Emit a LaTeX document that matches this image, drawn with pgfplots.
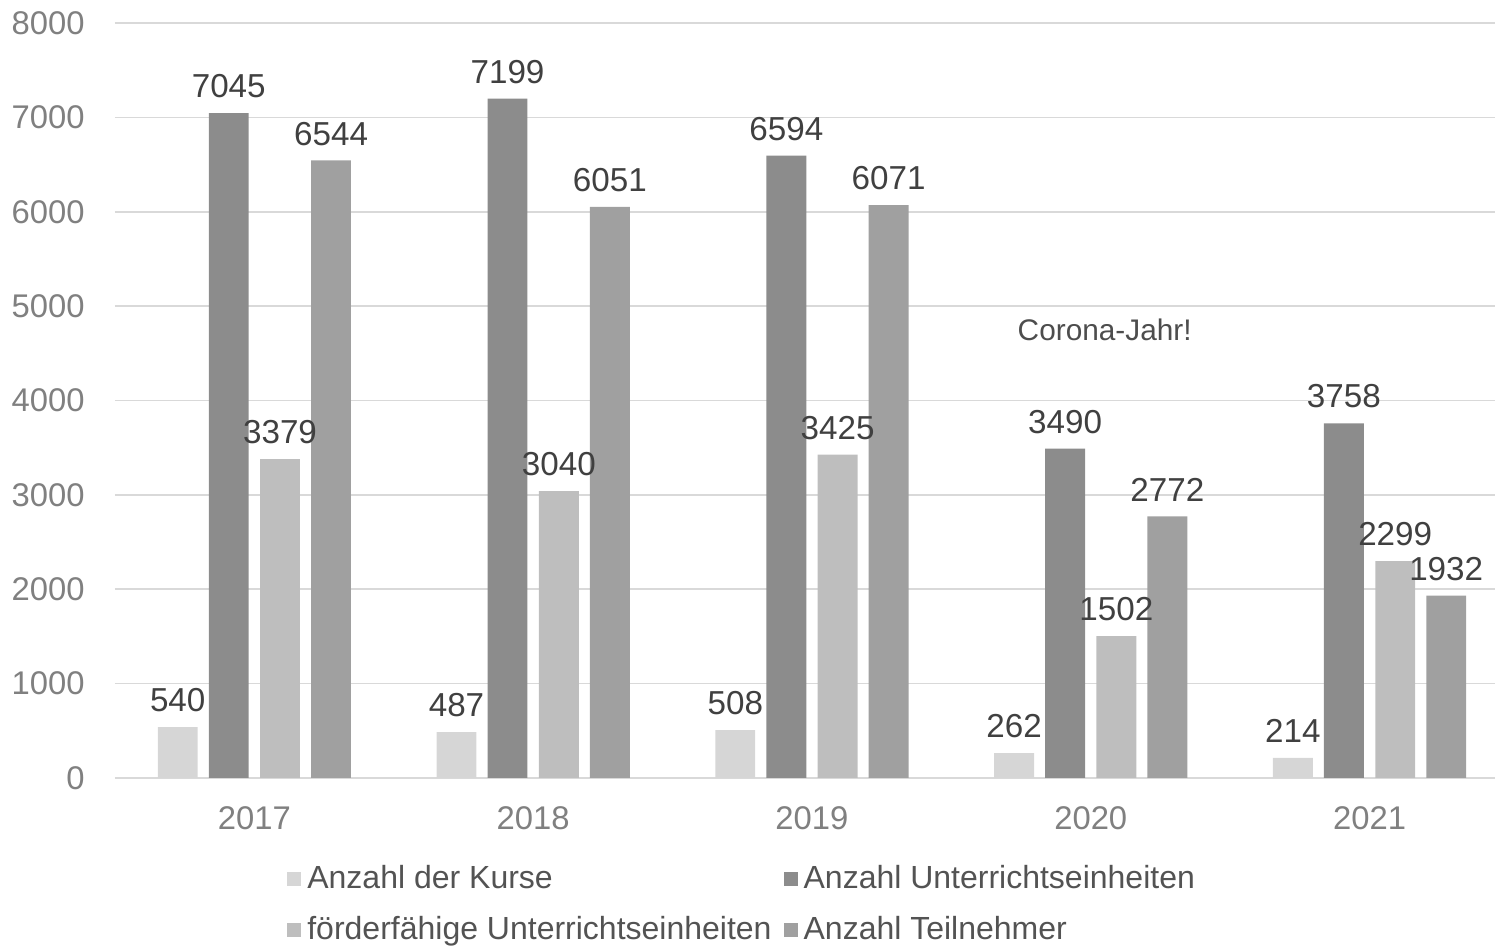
\documentclass[border=0pt]{standalone}
\usepackage{pgfplots}
\pgfplotsset{compat=1.18}
\usepackage{fontspec}
\setmainfont{Liberation Sans}
\definecolor{cK}{HTML}{D6D6D6}
\definecolor{cU}{HTML}{8C8C8C}
\definecolor{cF}{HTML}{BEBEBE}
\definecolor{cT}{HTML}{A0A0A0}
\definecolor{tickc}{HTML}{808080}
\definecolor{labc}{HTML}{404040}
\definecolor{gridc}{HTML}{D9D9D9}
\begin{document}
\begin{tikzpicture}
\begin{axis}[
  scale only axis, width=690pt, height=377.5pt,
  ymin=0, ymax=8000, ytick={0,1000,...,8000},
  xmin=-0.5, xmax=4.45,
  xtick={0,1,2,3,4}, xticklabels={2017,2018,2019,2020,2021},
  axis line style={draw=none},
  major tick length=0pt,
  ymajorgrids, grid style={gridc, line width=0.8pt},
  /pgf/number format/.cd, set thousands separator={}, assume math mode=true,
  /pgfplots/.cd,
  tick label style={font=\fontsize{16.4}{16.4}\selectfont, text=tickc},
  yticklabel style={xshift=-11.7pt},
  xticklabel style={yshift=-11pt},
  ybar, bar width=0.143,
  nodes near coords,
  every node near coord/.append style={font=\fontsize{16.6}{16.6}\selectfont, text=labc, yshift=4pt},
  legend columns=2,
  legend cell align=left,
  legend style={at={(0.1246,-0.110)}, anchor=north west, draw=none, fill=none,
    font=\fontsize{16.0}{16.0}\selectfont, text=labc!70!tickc,
    /tikz/every odd column/.append style={column sep=1pt},
    /tikz/every even column/.append style={column sep=4pt},
    row sep=8.5pt, inner sep=0pt},
  legend image code/.code={\fill[#1,draw=none] (0pt,-3.5pt) rectangle (7pt,3.5pt);},
]
\addplot[fill=cK, draw=none, bar shift=-0.275] coordinates {(0,540) (1,487) (2,508) (3,262) (4,214)};
\addplot[fill=cU, draw=none, bar shift=-0.092] coordinates {(0,7045) (1,7199) (2,6594) (3,3490) (4,3758)};
\addplot[fill=cF, draw=none, bar shift=0.092] coordinates {(0,3379) (1,3040) (2,3425) (3,1502) (4,2299)};
\addplot[fill=cT, draw=none, bar shift=0.275] coordinates {(0,6544) (1,6051) (2,6071) (3,2772) (4,1932)};
\legend{Anzahl der Kurse, Anzahl Unterrichtseinheiten, förderfähige Unterrichtseinheiten, Anzahl Teilnehmer}
\node[font=\fontsize{14.9}{14.9}\selectfont, text=labc!80!tickc] at (axis cs:3.05,4750) {Corona-Jahr!};
\end{axis}
\pgfresetboundingbox
\path[use as bounding box] ([xshift=-57.5pt,yshift=-84pt]current axis.south west) rectangle ([yshift=11.5pt]current axis.north east);
\end{tikzpicture}
\end{document}
